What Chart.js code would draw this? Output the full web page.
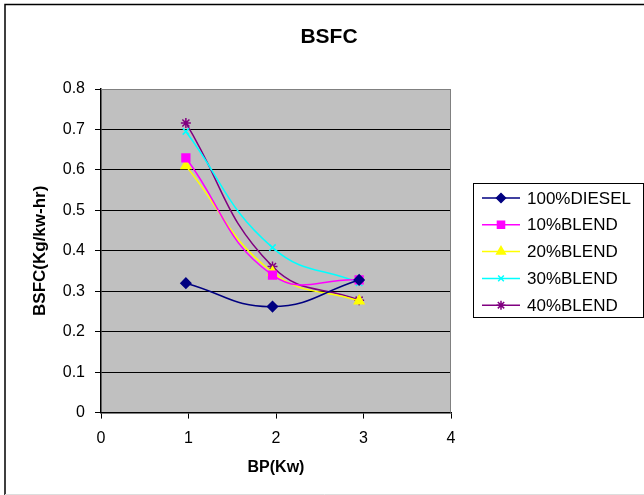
<!DOCTYPE html>
<html>
<head>
<meta charset="utf-8">
<script src="https://cdn.jsdelivr.net/npm/chart.js@4/dist/chart.umd.min.js"></script>
<style>
  html, body { margin: 0; padding: 0; background: #fff; }
  #wrap { position: relative; width: 644px; height: 495px; }
</style>
</head>
<body>
<div id="wrap"><canvas id="bsfc"></canvas></div>
<script>
// brake power (kW) at each test point
const bp = [0.97, 1.96, 2.95];

// BSFC (kg/kW-hr) for each fuel
const diesel100 = [0.32, 0.262, 0.328];
const blend10 = [0.63, 0.34, 0.328];
const blend20 = [0.61, 0.347, 0.276];
const blend30 = [0.695, 0.408, 0.321];
const blend40 = [0.716, 0.361, 0.278];

const seriesNames = ['100%DIESEL', '10%BLEND', '20%BLEND', '30%BLEND', '40%BLEND'];
const seriesValues = [diesel100, blend10, blend20, blend30, blend40];
const seriesColors = ['#000080', '#FF00FF', '#FFFF00', '#00FFFF', '#800080'];
const seriesMarkers = ['rectRot', 'rect', 'triangle', 'crossRot', 'star'];
const markerSizes = [5, 5.5, 5.5, 4.5, 5];

const FONT = '"Liberation Sans", Arial, sans-serif';

const datasets = seriesValues.map((vals, i) => ({
  label: seriesNames[i],
  data: vals.map((v, j) => ({ x: bp[j], y: v })),
  borderColor: seriesColors[i],
  backgroundColor: seriesColors[i],
  pointStyle: seriesMarkers[i],
  pointRadius: markerSizes[i],
  pointBorderWidth: 1.5,
  borderWidth: 1.5,
  showLine: true,
  tension: 0.45,
  fill: false,
}));

// grey plot area, frame, centred title and boxed legend
const excelLook = {
  id: 'excelLook',
  beforeDraw(chart) {
    const { ctx, chartArea: a } = chart;
    ctx.save();
    ctx.fillStyle = '#fff';
    ctx.fillRect(0, 0, chart.width, chart.height);
    ctx.fillStyle = '#C0C0C0';
    ctx.fillRect(a.left, a.top, a.right - a.left, a.bottom - a.top);
    // frame
    ctx.strokeStyle = '#000';
    ctx.lineWidth = 1.5;
    ctx.beginPath();
    ctx.moveTo(5, 495);
    ctx.lineTo(5, 4.5);
    ctx.lineTo(644, 4.5);
    ctx.stroke();
    ctx.strokeStyle = '#ddd';
    ctx.lineWidth = 1;
    ctx.beginPath();
    ctx.moveTo(5, 494.5);
    ctx.lineTo(644, 494.5);
    ctx.stroke();
    // title
    ctx.fillStyle = '#000';
    ctx.font = 'bold 21px ' + FONT;
    ctx.textAlign = 'center';
    ctx.textBaseline = 'middle';
    ctx.fillText('BSFC', 329, 37);
    ctx.restore();
  },
  afterDatasetsDraw(chart) {
    const { ctx, chartArea: a } = chart;
    ctx.save();
    // plot border on top/right
    ctx.strokeStyle = '#808080';
    ctx.lineWidth = 1;
    ctx.beginPath();
    ctx.moveTo(a.left, a.top + 0.5);
    ctx.lineTo(a.right - 0.5, a.top + 0.5);
    ctx.lineTo(a.right - 0.5, a.bottom);
    ctx.stroke();

    // legend
    const lx = 473, ly = 183, lw = 170, lh = 134;
    ctx.strokeStyle = '#000';
    ctx.lineWidth = 1;
    ctx.strokeRect(lx + 0.5, ly + 0.5, lw, lh);
    ctx.font = '17px ' + FONT;
    ctx.textBaseline = 'middle';
    chart.data.datasets.forEach((ds, i) => {
      const y = 198 + i * 26.8;
      ctx.strokeStyle = ds.borderColor;
      ctx.fillStyle = ds.backgroundColor;
      ctx.lineWidth = 1.5;
      ctx.beginPath();
      ctx.moveTo(482, y);
      ctx.lineTo(520, y);
      ctx.stroke();
      Chart.helpers.drawPoint(ctx, {
        pointStyle: ds.pointStyle,
        radius: ds.pointRadius - 0.5,
        rotation: 0,
        borderWidth: 1.5,
      }, 501, y);
      ctx.fillStyle = '#000';
      ctx.fillText(ds.label, 527, y + 1);
    });
    ctx.restore();
  },
};

new Chart(document.getElementById('bsfc'), {
  type: 'scatter',
  data: { datasets },
  plugins: [excelLook],
  options: {
    responsive: true,
    maintainAspectRatio: false,
    animation: false,
    layout: { padding: { left: 30, right: 193, top: 89, bottom: 18 } },
    plugins: {
      legend: { display: false },
      tooltip: { enabled: false },
      title: { display: false },
    },
    scales: {
      x: {
        type: 'linear',
        min: 0,
        max: 4,
        ticks: {
          stepSize: 1,
          color: '#000',
          font: { family: FONT, size: 16 },
          padding: 10,
        },
        grid: {
          drawOnChartArea: false,
          color: '#000',
          tickLength: 6,
          tickColor: '#000',
        },
        border: { color: '#000', width: 1.5 },
        title: {
          display: true,
          text: 'BP(Kw)',
          color: '#000',
          font: { family: FONT, size: 16, weight: 'bold' },
          padding: { top: 0, bottom: 0 },
        },
      },
      y: {
        min: 0,
        max: 0.8,
        afterFit(scale) { scale.width = 71; },
        ticks: {
          stepSize: 0.1,
          color: '#000',
          font: { family: FONT, size: 16 },
          padding: 10,
        },
        grid: {
          color: (c) => (c.tick && c.tick.value >= 0.8 ? '#808080' : '#000'),
          lineWidth: 1,
          tickLength: 6,
          tickColor: '#000',
        },
        border: { color: '#000', width: 1.5 },
        title: {
          display: true,
          text: 'BSFC(Kg/kw-hr)',
          color: '#000',
          font: { family: FONT, size: 17, weight: 'bold' },
          padding: { top: 0, bottom: 4 },
        },
      },
    },
  },
});
</script>
</body>
</html>
